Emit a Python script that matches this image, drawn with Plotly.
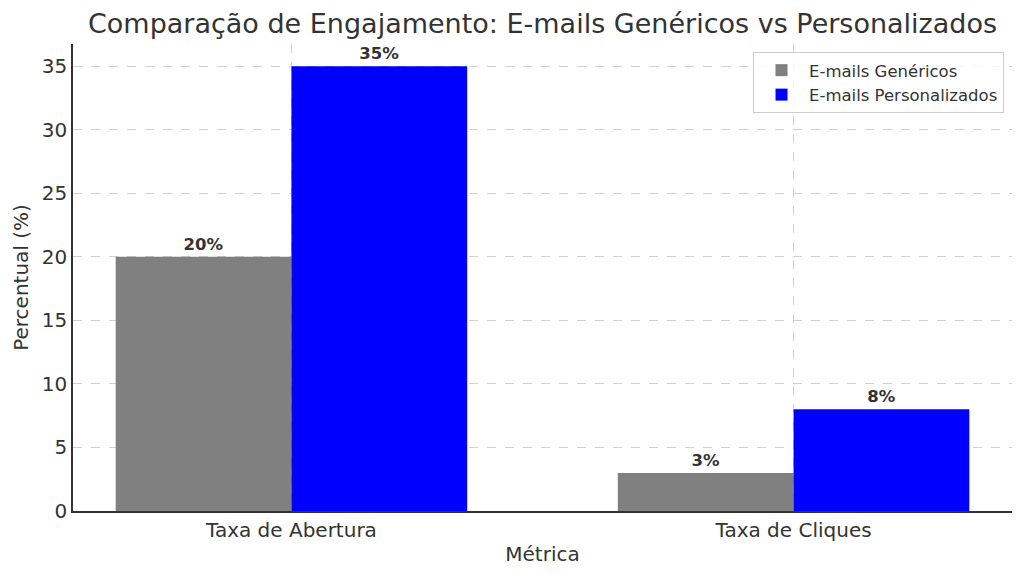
import plotly.graph_objects as go

categories = ["Taxa de Abertura", "Taxa de Cliques"]
generic_values = [20, 3]
personalized_values = [35, 8]
series_names = ["E-mails Genéricos", "E-mails Personalizados"]
y_ticks = [0, 5, 10, 15, 20, 25, 30, 35]

x_pos = list(range(len(categories)))
bar_w = 0.35
font_fam = "DejaVu Sans, Verdana, sans-serif"
txt_col = "#333333"

fig = go.Figure()
fig.add_trace(go.Bar(
    x=x_pos, y=generic_values, width=bar_w, offset=-bar_w,
    name=series_names[0], marker=dict(color="#808080", line=dict(width=0)),
    text=[f"{v}%" for v in generic_values], textposition="outside",
    textfont=dict(family=font_fam, size=16.5, color=txt_col, weight="bold"),
    cliponaxis=False,
))
fig.add_trace(go.Bar(
    x=x_pos, y=personalized_values, width=bar_w, offset=0,
    name=series_names[1], marker=dict(color="#0000ff", line=dict(width=0)),
    text=[f"{v}%" for v in personalized_values], textposition="outside",
    textfont=dict(family=font_fam, size=16.5, color=txt_col, weight="bold"),
    cliponaxis=False,
))

fig.update_layout(
    width=1024, height=576,
    barmode="overlay",
    paper_bgcolor="white", plot_bgcolor="white",
    margin=dict(l=63, r=20, t=36, b=73),
    font=dict(family=font_fam, color=txt_col),
    title=dict(text="Comparação de Engajamento: E-mails Genéricos vs Personalizados",
               xref="paper", x=0.5, xanchor="center", y=0.973, yanchor="middle",
               font=dict(size=27, color=txt_col)),
    legend=dict(x=0.9915, xanchor="right", y=0.983, yanchor="top",
                bgcolor="rgba(255,255,255,0.8)", bordercolor="#cccccc", borderwidth=1,
                font=dict(size=16.5, color=txt_col), tracegroupgap=2, itemwidth=45),
    showlegend=True,
)
fig.update_xaxes(
    range=[-0.435, 1.435], tickvals=x_pos, ticktext=categories,
    tickfont=dict(size=20, color=txt_col),
    showgrid=True, gridcolor="#d0d0d0", griddash="dash", gridwidth=1,
    showline=True, linecolor="#333333", linewidth=1.5, mirror=False,
    ticks="outside", ticklen=0, zeroline=False,
    title=dict(text="Métrica", font=dict(size=20, color=txt_col), standoff=6),
)
fig.update_yaxes(
    range=[0, 36.75], tickvals=y_ticks,
    tickfont=dict(size=20, color=txt_col),
    showgrid=True, gridcolor="#d0d0d0", griddash="dash", gridwidth=1,
    showline=True, linecolor="#333333", linewidth=1.5,
    ticks="outside", ticklen=0, zeroline=False,
    title=dict(text="Percentual (%)", font=dict(size=20, color=txt_col), standoff=8),
)

fig.write_html("out.html")
